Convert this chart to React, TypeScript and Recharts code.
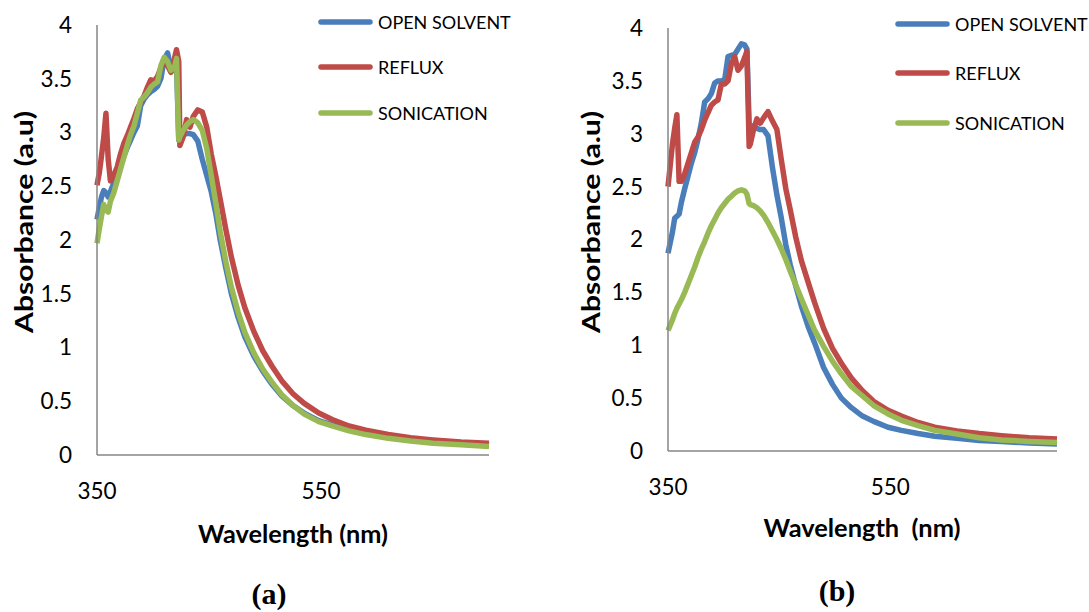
import { Legend, Line, LineChart, XAxis, YAxis } from "recharts";

// UV-Vis spectra (nm / absorbance a.u.)
const WAVELENGTH = [
  350, 352, 354, 356, 358, 360, 362, 365, 368, 371,
  374, 377, 380, 383, 386, 389, 392, 395, 398, 401,
  404, 407, 410, 413, 416, 419, 421, 423, 424, 427,
  430, 433, 436, 440, 444, 448, 452, 456, 460, 465,
  470, 476, 482, 490, 498, 506, 515, 525, 535, 548,
  560, 575, 590, 610, 630, 650, 675, 700,
];

// panel (a)
const A_OPEN = [
  2.19, 2.3, 2.4, 2.46, 2.44, 2.4, 2.45, 2.53, 2.62, 2.7,
  2.78, 2.86, 2.93, 3.0, 3.06, 3.25, 3.31, 3.35, 3.38, 3.4,
  3.43, 3.5, 3.68, 3.74, 3.6, 3.58, 3.64, 2.93, 2.95, 2.98,
  2.99, 2.99, 2.98, 2.92, 2.75, 2.6, 2.45, 2.25, 2.0, 1.74,
  1.5, 1.28, 1.1, 0.92, 0.78, 0.66, 0.55, 0.46, 0.39, 0.32,
  0.28, 0.235, 0.2, 0.165, 0.14, 0.12, 0.105, 0.09,
];
const A_REFLUX = [
  2.51, 2.62, 2.78, 2.95, 3.18, 2.75, 2.55, 2.6, 2.68, 2.8,
  2.9, 2.97, 3.05, 3.13, 3.22, 3.28, 3.34, 3.42, 3.49, 3.48,
  3.52, 3.6, 3.68, 3.62, 3.56, 3.68, 3.77, 3.66, 2.88, 2.96,
  3.12, 3.05, 3.15, 3.21, 3.19, 3.05, 2.8, 2.6, 2.38, 2.1,
  1.84, 1.58, 1.37, 1.15, 0.97, 0.83, 0.69, 0.57, 0.48, 0.39,
  0.33, 0.27, 0.23, 0.19, 0.16, 0.14, 0.12, 0.11,
];
const A_SONIC = [
  1.97, 2.1, 2.22, 2.33, 2.28, 2.26, 2.36, 2.44, 2.55, 2.66,
  2.77, 2.88, 2.98, 3.06, 3.18, 3.3, 3.33, 3.37, 3.42, 3.45,
  3.47, 3.62, 3.7, 3.66, 3.58, 3.6, 3.69, 2.93, 2.96, 3.02,
  3.07, 3.1, 3.12, 3.09, 3.02, 2.85, 2.6, 2.35, 2.08, 1.8,
  1.56, 1.33, 1.14, 0.95, 0.8, 0.68, 0.56, 0.46, 0.38, 0.31,
  0.27, 0.225, 0.19, 0.155, 0.13, 0.11, 0.095, 0.08,
];

// panel (b)
const B_OPEN = [
  1.87, 1.97, 2.07, 2.2, 2.22, 2.24, 2.35, 2.48, 2.6, 2.72,
  2.82, 2.95, 3.1, 3.3, 3.33, 3.38, 3.48, 3.5, 3.5, 3.51,
  3.73, 3.74, 3.75, 3.8, 3.85, 3.84, 3.8, 3.1, 3.08, 3.07,
  3.05, 3.04, 3.04, 2.98, 2.68, 2.42, 2.2, 1.95, 1.76, 1.56,
  1.37, 1.18, 1.02, 0.79, 0.63, 0.5, 0.41, 0.33, 0.28, 0.225,
  0.195, 0.165, 0.14, 0.12, 0.1, 0.09, 0.075, 0.066,
];
const B_REFLUX = [
  2.5, 2.7, 2.9, 3.05, 3.18, 2.55, 2.55, 2.62, 2.72, 2.82,
  2.92, 2.97, 3.04, 3.13, 3.2, 3.27, 3.3, 3.32, 3.47, 3.47,
  3.5, 3.66, 3.73, 3.6, 3.64, 3.72, 3.78, 2.88, 2.9, 3.04,
  3.14, 3.1, 3.15, 3.21, 3.12, 3.04, 2.75, 2.48, 2.28, 2.02,
  1.8, 1.6, 1.4, 1.16, 0.97, 0.83, 0.69, 0.57, 0.47, 0.385,
  0.33, 0.27, 0.225, 0.19, 0.165, 0.145, 0.125, 0.113,
];
const B_SONIC = [
  1.14, 1.19, 1.24, 1.3, 1.35, 1.39, 1.43, 1.5, 1.58, 1.66,
  1.74, 1.83, 1.91, 1.98, 2.06, 2.13, 2.19, 2.25, 2.3, 2.34,
  2.38, 2.41, 2.44, 2.46, 2.47, 2.46, 2.43, 2.34, 2.33, 2.32,
  2.3, 2.27, 2.23, 2.16, 2.08, 2.0, 1.91, 1.81, 1.7, 1.57,
  1.44, 1.29, 1.14, 0.99, 0.85, 0.73, 0.61, 0.52, 0.43, 0.35,
  0.29, 0.24, 0.195, 0.16, 0.125, 0.105, 0.09, 0.08,
];

const X_TICKS = [350, 550];
const Y_TICKS = [0, 0.5, 1, 1.5, 2, 2.5, 3, 3.5, 4];

const SERIES = [
  { key: "open", name: "OPEN SOLVENT", color: "#4A7EBB" },
  { key: "reflux", name: "REFLUX", color: "#BE4B48" },
  { key: "sonic", name: "SONICATION", color: "#98B954" },
];

const FONT = "Lato, 'Open Sans', sans-serif";
const AXIS = "#868686";

function toRows(open: number[], reflux: number[], sonic: number[]) {
  return WAVELENGTH.map((nm, i) => ({
    nm,
    open: open[i],
    reflux: reflux[i],
    sonic: sonic[i],
  }));
}

// the original figure is a bit stretched vertically, so the rotated title runs long
function YTitle({ cx, cy }: { cx: number; cy: number }) {
  return (
    <text
      x={cx}
      y={cy}
      transform={`rotate(-90 ${cx} ${cy})`}
      textAnchor="middle"
      dominantBaseline="central"
      fontFamily={FONT}
      fontWeight={700}
      fontSize={24}
      textLength={222}
      lengthAdjust="spacingAndGlyphs"
      fill="#000"
    >
      Absorbance (a.u)
    </text>
  );
}

function XTitle({ cx, cy, text, len }: { cx: number; cy: number; text: string; len: number }) {
  return (
    <text
      x={cx}
      y={cy}
      textAnchor="middle"
      dominantBaseline="central"
      fontFamily={FONT}
      fontWeight={700}
      fontSize={24}
      textLength={len}
      lengthAdjust="spacingAndGlyphs"
      fill="#000"
      style={{ whiteSpace: "pre" }}
    >
      {text}
    </text>
  );
}

function LegendRows({ payload, rowH }: any) {
  return (
    <div>
      {(payload || []).map((p: any) => (
        <div
          key={p.value}
          style={{ height: rowH, display: "flex", alignItems: "center" }}
        >
          <svg width={55} height={8}>
            <line
              x1={3}
              y1={4}
              x2={52}
              y2={4}
              stroke={p.color}
              strokeWidth={5.5}
              strokeLinecap="round"
            />
          </svg>
          <span
            style={{
              marginLeft: 5,
              fontFamily: FONT,
              fontSize: 18,
              color: "#000",
              whiteSpace: "nowrap",
            }}
          >
            {p.value}
          </span>
        </div>
      ))}
    </div>
  );
}

type PanelProps = {
  rows: ReturnType<typeof toRows>;
  width: number;
  margin: { top: number; right: number; bottom: number; left: number };
  yTitle: { cx: number; cy: number };
  xTitle: { cx: number; cy: number; text: string; len: number };
  legend: { left: number; top: number; rowH: number };
};

function SpectrumPanel({ rows, width, margin, yTitle, xTitle, legend }: PanelProps) {
  const tick = { fill: "#000", fontFamily: FONT, fontSize: 22.5 };
  return (
    <LineChart width={width} height={612} data={rows} margin={margin}>
      <XAxis
        type="number"
        dataKey="nm"
        domain={[350, 700]}
        ticks={X_TICKS}
        height={30}
        tick={tick}
        tickSize={0}
        tickMargin={28}
        stroke={AXIS}
        strokeWidth={1.5}
        label={<XTitle {...xTitle} />}
      />
      <YAxis
        type="number"
        domain={[0, 4]}
        ticks={Y_TICKS}
        width={60}
        tick={tick}
        tickSize={0}
        tickMargin={25}
        stroke={AXIS}
        strokeWidth={1.5}
        label={<YTitle {...yTitle} />}
      />
      <Legend
        layout="vertical"
        align="center"
        verticalAlign="middle"
        wrapperStyle={{ left: legend.left, top: legend.top, width: 220 }}
        content={(props: any) => <LegendRows {...props} rowH={legend.rowH} />}
      />
      {SERIES.map((s) => (
        <Line
          key={s.key}
          type="linear"
          dataKey={s.key}
          name={s.name}
          stroke={s.color}
          strokeWidth={5.5}
          strokeLinejoin="round"
          dot={false}
          activeDot={false}
          isAnimationActive={false}
        />
      ))}
    </LineChart>
  );
}

const caption = {
  position: "absolute" as const,
  width: 100,
  height: 32,
  lineHeight: "32px",
  textAlign: "center" as const,
  fontFamily: "'Liberation Serif', serif",
  fontWeight: 700,
  fontSize: 30,
  color: "#000",
};

export default function App() {
  return (
    <div
      style={{
        position: "absolute",
        left: 0,
        top: 0,
        width: 1089,
        height: 612,
        background: "#fff",
        overflow: "hidden",
      }}
    >
      <div style={{ position: "absolute", left: 0, top: 0 }}>
        <SpectrumPanel
          rows={toRows(A_OPEN, A_REFLUX, A_SONIC)}
          width={520}
          margin={{ top: 25, right: 31, bottom: 127, left: 37 }}
          yTitle={{ cx: 23, cy: 222 }}
          xTitle={{ cx: 293, cy: 533, text: "Wavelength (nm)", len: 190 }}
          legend={{ left: 318, top: -1, rowH: 45.5 }}
        />
      </div>
      <div style={{ position: "absolute", left: 560, top: 0 }}>
        <SpectrumPanel
          rows={toRows(B_OPEN, B_REFLUX, B_SONIC)}
          width={529}
          margin={{ top: 28, right: 32, bottom: 131, left: 48 }}
          yTitle={{ cx: 30, cy: 222 }}
          xTitle={{ cx: 302, cy: 527, text: "Wavelength  (nm)", len: 197 }}
          legend={{ left: 335, top: -1, rowH: 49.5 }}
        />
      </div>
      <div style={{ ...caption, left: 219, top: 578 }}>(a)</div>
      <div style={{ ...caption, left: 787, top: 575 }}>(b)</div>
    </div>
  );
}
